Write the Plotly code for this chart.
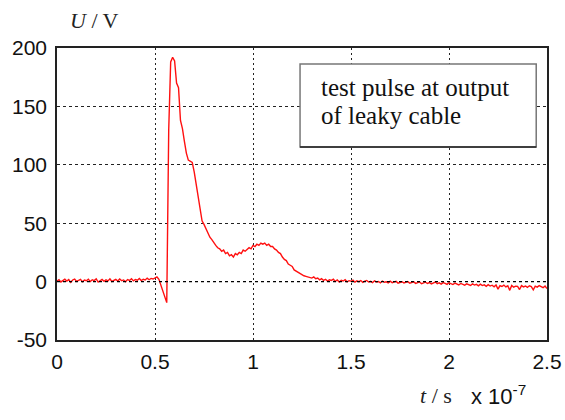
import plotly.graph_objects as go

# Oscilloscope record of the test pulse, sampled every 0.01 x 1e-7 s
SAMPLE_STEP = 0.01  # in units of 1e-7 s

U_VOLTS = [
    # 0.00 - 0.50
    0.5, 1.6, -0.3, 1.2, 2.0, 0.4, 1.7, -0.6, 1.4, 2.2,
    0.2, 1.0, 1.9, -0.2, 1.3, 0.7, 2.1, 0.0, 1.5, 0.9,
    2.3, -0.4, 1.1, 1.8, 0.3, 1.6, 0.6, 2.4, 0.1, 1.2,
    1.9, 0.5, 2.2, 0.8, 1.4, -0.1, 1.7, 1.0, 2.5, 0.6,
    1.8, 1.2, 2.6, 0.9, 2.0, 1.4, 3.0, 1.6, 2.7, 2.2,
    3.2,
    # 0.51 - 0.60 : pre-dip and steep rise
    4.0, 2.0, -3.0, -9.0, -12.0, -18.0, 130.0, 188.0, 192.0, 189.0,
    # 0.61 - 0.90 : decay of the main peak
    170.0, 166.0, 138.0, 131.0, 120.0, 110.0, 104.0, 103.0, 102.0, 94.0,
    84.0, 74.0, 63.0, 52.0, 49.0, 45.0, 42.0, 38.0, 36.0, 33.0,
    31.0, 29.0, 28.0, 26.0, 27.0, 24.0, 25.0, 22.0, 23.0, 21.0,
    # 0.91 - 1.40 : secondary hump and tail
    24.0, 23.0, 25.0, 24.0, 27.0, 26.0, 28.0, 29.0, 28.0, 31.0,
    30.0, 32.0, 31.0, 33.0, 32.0, 33.0, 31.0, 32.0, 30.0, 30.0,
    28.0, 27.0, 25.0, 24.0, 21.0, 19.0, 18.0, 15.0, 14.0, 13.0,
    10.0, 9.0, 7.5, 6.5, 6.0, 5.0, 4.5, 4.0, 3.5, 3.0,
    4.0, 2.5, 3.0, 1.5, 2.5, 1.0, 2.0, 0.5, 1.5, 1.0,
    # 1.41 - 2.50 : settling below zero
    2.0, 0.2, 1.4, -0.3, 1.1, 0.5, 1.6, -0.2, 0.8,
    0.3, 1.2, -0.5, 0.6, -0.1, 0.9, -0.6, 0.4, 1.0, -0.4,
    0.2, -0.8, 0.7, -0.3, 0.1, -1.0, 0.5, -0.6, -0.2, -1.2,
    0.3, -0.9, -0.4, 0.2, -1.3, -0.5, -0.1, -1.1, -0.6, 0.0,
    -1.4, -0.7, -0.2, -1.5, -0.9, -0.3, -1.8, -1.0, -0.5, -1.6,
    -0.8, -2.0, -1.2, -0.4, -1.7, -1.1, -2.2, -0.9, -1.5, -2.4,
    -1.0, -1.8, -2.5, -1.3, -2.1, -2.9, -1.6, -2.4, -3.1, -1.9,
    -2.7, -3.3, -2.0, -3.0, -2.4, -3.6, -2.2, -3.4, -2.8, -4.0,
    -2.6, -3.8, -3.1, -4.4, -2.9, -6.5, -3.5, -4.2, -3.0, -4.6,
    -3.6, -7.5, -3.3, -4.8, -3.9, -4.1, -6.8, -3.4, -4.5, -3.8,
    -5.0, -3.6, -4.3, -7.0, -3.9, -4.7, -3.5, -4.4, -5.2, -3.8,
    -6.0,
]
T_UNITS = [round(i * SAMPLE_STEP, 2) for i in range(len(U_VOLTS))]

X_TICKS = [0, 0.5, 1, 1.5, 2, 2.5]
X_TICK_TEXT = ["0", "0.5", "1", "1.5", "2", "2.5"]
Y_TICKS = [-50, 0, 50, 100, 150, 200]
Y_TICK_TEXT = ["-50", "0", "50", "100", "150", "200"]

BOX_LINES = ["test pulse at output", "of leaky cable"]

fig = go.Figure()
fig.add_trace(go.Scatter(
    x=T_UNITS, y=U_VOLTS, mode="lines",
    line=dict(color="#ff1010", width=1.4),
    showlegend=False, hoverinfo="skip",
))

tick_font = dict(family="Liberation Sans, Arial, sans-serif", size=21, color="#111")
fig.update_layout(
    width=565, height=420,
    margin=dict(l=57, r=18, t=48, b=80),
    paper_bgcolor="white", plot_bgcolor="white",
    xaxis=dict(
        range=[0, 2.5], tickvals=X_TICKS, ticktext=X_TICK_TEXT,
        showgrid=True, gridcolor="#222", gridwidth=1, griddash="2px,3px",
        zeroline=False, showline=True, mirror=True,
        linecolor="#222", linewidth=1.6, ticks="",
        tickfont=tick_font, ticklabelstandoff=2, automargin=False,
    ),
    yaxis=dict(
        range=[-50, 200], tickvals=Y_TICKS, ticktext=Y_TICK_TEXT,
        showgrid=True, gridcolor="#222", gridwidth=1, griddash="3px,3px",
        zeroline=False, showline=True, mirror=True,
        linecolor="#222", linewidth=1.6, ticks="",
        tickfont=tick_font, ticklabelstandoff=4, automargin=False,
    ),
)

# emphasised zero reference line
fig.add_shape(type="line", xref="paper", yref="y", x0=0, x1=1, y0=0, y1=0,
              line=dict(color="black", width=1.4, dash="3px,3px"), layer="above")

# text box with caption
fig.add_shape(type="rect", xref="paper", yref="paper",
              x0=0.496, x1=0.978, y0=0.661, y1=0.945,
              line=dict(color="#777", width=1.5), fillcolor="white", layer="above")
fig.add_shape(type="line", xref="paper", yref="paper",
              x0=0.496, x1=0.978, y0=0.661, y1=0.661,
              line=dict(color="#222", width=1.5), layer="above")
serif = "Liberation Serif, Times New Roman, serif"
for k, line_text in enumerate(BOX_LINES):
    fig.add_annotation(xref="paper", yref="paper", x=0.534, y=0.865 - k * 0.097,
                       text=line_text, showarrow=False, xanchor="left", yanchor="middle",
                       font=dict(family=serif, size=25, color="#111"))

# axis captions
fig.add_annotation(xref="paper", yref="paper", x=0.022, y=1.095,
                   text="<i>U</i> / V", showarrow=False, xanchor="left", yanchor="middle",
                   font=dict(family=serif, size=22, color="#222"))
fig.add_annotation(xref="paper", yref="paper", x=0.737, y=-0.19,
                   text="<i>t</i> / s", showarrow=False, xanchor="left", yanchor="middle",
                   font=dict(family=serif, size=22, color="#222"))
fig.add_annotation(xref="paper", yref="paper", x=0.84, y=-0.19,
                   text="x 10<sup>-7</sup>", showarrow=False, xanchor="left", yanchor="middle",
                   font=dict(family="Liberation Sans, Arial, sans-serif", size=22, color="#111"))

fig.write_html("out.html")
